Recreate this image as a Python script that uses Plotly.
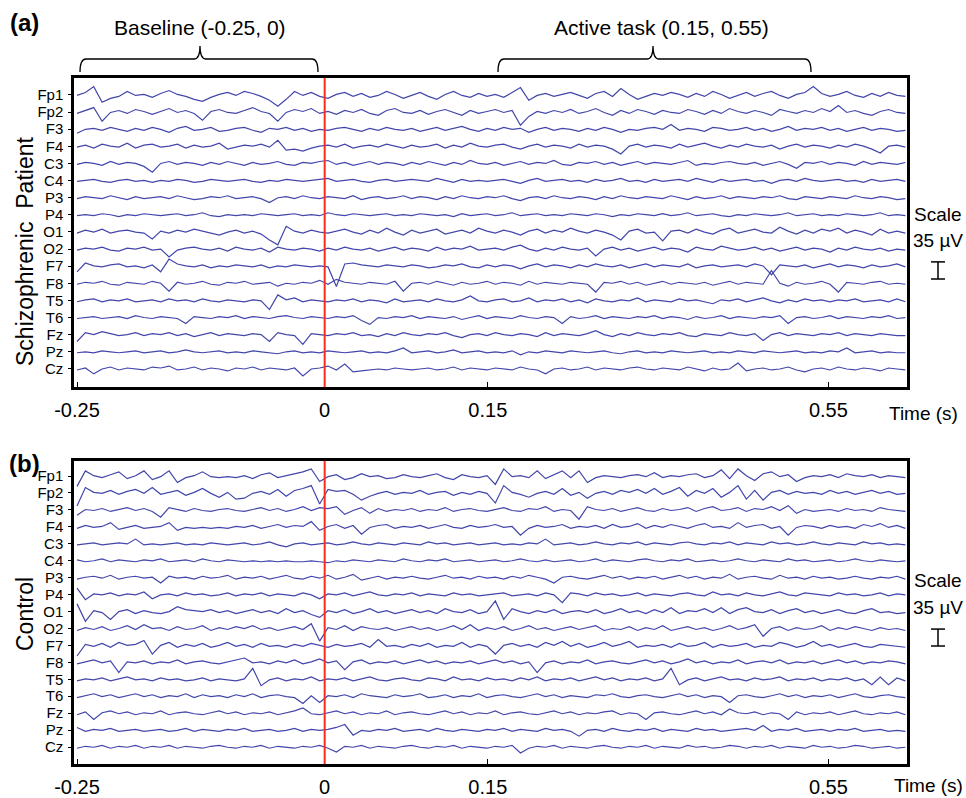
import numpy as np
import plotly.graph_objects as go

# ---------------- data ----------------
channels = ["Fp1", "Fp2", "F3", "F4", "C3", "C4", "P3", "P4", "O1", "O2",
            "F7", "F8", "T5", "T6", "Fz", "Pz", "Cz"]
tick_text = ["-0.25", "0", "0.15", "0.55"]
tick_sample = [0, 29.6, 49.1, 89.8]      # sample index of each time tick
onset_sample = 29.6                       # stimulus onset (t = 0)
UNIT_UV = 2.0                             # stored amplitudes are in 2-uV units
SPACING_UV = 35                           # channel spacing = scale bar (35 uV)

# Schizophrenic patient (100 samples per channel)
sz_Fp1 = [1,4,10,-6,-2,0,5,1,2,-1, 3,6,2,0,-3,-5,-1,2,4,1, 5,3,0,-4,-10,-3,5,1,4,0, -2,2,4,0,3,-1,1,5,2,-2,
          1,4,0,-3,2,5,1,-1,3,0, 2,-1,4,9,-4,1,3,0,2,4, 1,-2,3,5,0,8,2,-3,0,3, 1,4,2,-1,3,0,5,2,-2,1,
          4,0,3,5,1,-2,2,4,10,3, 0,2,5,1,-1,3,0,4,1,0]
sz_Fp2 = [0,3,6,-8,1,3,0,4,2,-1, 2,5,1,3,0,-7,2,4,1,0, 3,6,2,0,-8,1,4,2,5,0, 2,-1,3,1,4,0,-2,3,5,1,
          0,3,-1,2,4,1,-2,3,0,2, 4,1,3,-12,-3,2,0,3,1,4, 0,2,5,1,-2,3,0,4,2,-1, 3,1,0,4,2,-1,3,0,5,2,
          0,3,1,-2,4,2,0,3,1,5, 2,8,1,3,0,-2,2,4,1,0]
sz_F3 = [-3,1,2,0,3,1,-1,2,0,3, 1,-2,2,4,0,1,3,-1,0,2, 3,0,-2,2,1,3,0,2,-1,1, 0,2,3,1,-1,2,0,3,1,0,
         2,-1,1,3,0,2,4,1,-1,2, 0,3,1,2,-2,1,3,0,2,1, -1,2,0,3,1,-2,1,0,2,3, 1,6,0,2,1,-1,3,2,0,1,
         3,0,2,-1,1,4,0,2,1,3, 0,2,-1,1,3,0,2,1,-1,0]
sz_F4 = [0,2,-1,3,1,0,4,-1,2,3, 0,1,3,-1,2,0,1,4,-2,0, 2,1,3,0,7,-3,-2,-4,-1,1, 2,0,3,-1,1,2,0,3,1,-1,
         2,0,1,3,-1,2,0,4,1,0, 2,3,0,-2,1,3,0,2,1,-1, 3,0,2,1,-2,-7,1,3,0,2, 1,-1,3,0,2,4,1,-1,2,0,
         3,1,0,2,-2,1,3,0,2,1, -1,2,0,3,1,-2,-6,1,2,0]
sz_C3 = [0,2,1,-1,3,0,2,1,-2,-8, 1,3,0,2,1,-1,2,0,3,1, -1,2,0,1,3,0,-1,2,1,3, 4,0,2,-1,1,3,0,2,1,-1,
         2,0,3,1,-1,2,0,4,1,0, 2,-1,1,3,0,2,1,4,0,-1, 2,1,3,0,2,-1,1,3,0,2, 1,0,2,4,-1,1,0,2,3,1,
         0,2,-1,1,3,0,-4,2,1,3, 0,2,1,-1,3,0,2,1,0,2]
sz_C4 = [0,1,2,0,-1,1,2,0,1,-1, 1,0,2,1,-1,0,2,1,0,1, 2,0,-1,1,0,2,1,0,1,2, 3,0,1,2,0,-1,1,2,0,1,
         2,1,0,3,1,-1,2,0,1,0, 1,2,0,-2,1,3,0,1,2,0, 1,-1,2,0,1,3,0,1,-1,2, 0,1,2,0,3,1,-1,2,0,1,
         2,0,1,-2,1,2,0,3,1,0, 1,2,0,1,-1,2,0,1,2,0]
sz_P3 = [0,2,1,0,3,1,-1,2,0,1, 2,0,3,1,-1,0,2,1,3,0, 1,2,0,-4,1,2,0,3,1,0, 2,1,0,3,-1,1,2,0,1,3,
         0,2,1,-1,2,0,3,1,0,2, 1,3,0,-2,1,2,0,3,1,0, 2,1,-1,2,0,3,1,0,2,1, 0,3,1,-1,2,0,1,3,0,2,
         1,0,2,1,3,0,-1,2,1,0, 2,1,0,3,1,0,2,1,-1,0]
sz_P4 = [0,1,0,2,1,-1,1,0,2,1, 0,1,2,0,1,3,0,-1,1,0, 1,0,2,1,0,1,2,0,1,0, 3,1,0,2,1,0,1,2,0,1,
         0,2,1,0,1,-1,2,0,1,2, 0,1,3,0,1,2,0,1,0,2, 1,0,2,1,-1,1,0,2,1,0, 2,0,1,3,0,1,2,0,-1,1,
         0,2,1,0,1,3,0,1,2,0, 1,0,2,1,0,1,3,0,1,0]
sz_O1 = [0,3,1,4,0,2,3,1,0,-6, 2,0,3,1,4,2,0,-2,1,3, 0,2,-1,-7,-12,7,2,0,3,1, 0,2,4,1,-1,3,0,5,1,-2,
         3,0,2,4,-1,1,3,0,5,2, 0,3,1,-2,2,4,0,3,1,5, 2,0,3,1,-2,-7,2,4,0,1, -8,2,3,0,4,1,-1,3,5,0,
         2,4,1,0,6,2,-1,3,0,4, 2,5,0,3,1,-2,4,0,2,0]
sz_O2 = [0,2,1,3,0,-1,2,1,3,0, 1,-7,0,2,3,1,0,2,-1,3, 1,0,2,-2,3,1,0,2,1,-1, 2,0,3,1,0,2,-1,1,3,0,
         2,1,-1,3,0,2,1,4,0,1, 2,0,3,5,1,-1,2,0,3,1, 0,2,-6,1,3,0,2,-1,1,3, 0,2,1,-2,3,1,0,4,2,0,
         1,3,0,2,-1,1,3,0,2,1, -2,2,0,3,1,0,2,-1,1,0]
sz_F7 = [-5,4,1,0,2,3,0,1,-1,2, -5,8,3,1,0,2,-1,1,0,2, 1,0,2,-1,1,0,2,1,0,1, 0,-20,3,4,2,1,0,2,1,0,
         2,1,-1,0,2,1,3,0,-1,2, 0,2,1,-2,1,3,0,2,1,-1, 2,0,3,1,0,2,-1,1,3,0, 2,1,0,3,-1,1,2,0,1,2,
         0,3,1,-8,2,1,0,2,-1,1, 3,0,2,1,-1,2,0,1,3,0]
sz_F8 = [0,2,1,3,0,-1,2,1,0,3, 1,-7,2,0,1,3,0,-1,2,1, 3,0,1,2,-2,1,0,2,1,4, 0,5,2,1,0,2,1,0,3,-7,
         1,2,0,3,1,-1,2,0,1,3, 0,2,1,-1,3,0,2,1,0,2, 1,0,-8,2,1,3,0,2,-1,1, 3,0,2,1,0,2,-1,1,3,0,
         2,1,0,14,1,-2,2,0,1,3, 0,-8,2,1,0,2,3,0,1,0]
sz_T5 = [0,2,3,0,2,1,3,0,1,2, 0,3,1,2,0,3,1,0,2,1, 0,2,1,-8,7,2,4,0,2,1, 0,2,1,3,0,2,1,-1,3,0,
         1,2,0,3,1,0,2,6,1,0, 2,3,0,1,4,0,2,1,3,0, 2,-1,3,1,0,2,1,4,0,2, 1,0,3,1,2,0,-2,2,1,3,
         0,2,4,1,-1,2,0,3,1,2, 0,2,1,3,0,1,2,0,3,0]
sz_T6 = [0,1,2,0,1,2,0,3,1,0, 2,1,0,-5,2,1,0,2,1,3, 0,2,1,0,2,3,1,0,2,1, 0,2,1,3,-2,-6,1,0,2,1,
         3,0,2,1,0,2,-1,1,3,0, 2,1,0,3,1,0,2,1,-5,2, 0,1,3,0,2,1,0,2,1,3, 0,2,1,-1,2,0,1,3,0,2,
         1,0,2,1,3,-5,1,2,0,1, 3,0,2,1,0,2,1,3,0,1]
sz_Fz = [-6,3,1,4,2,0,1,3,0,2, 1,3,0,2,-1,1,3,0,2,1, 0,2,1,-6,3,1,0,-9,2,1, 0,2,1,3,0,1,-1,2,0,3,
         1,0,2,1,3,0,-2,1,2,0, 3,1,0,2,1,-1,3,0,2,1, 0,2,5,1,-1,2,0,3,1,0, 2,1,3,0,-1,2,1,0,3,1,
         0,2,-5,1,3,0,2,1,0,2, 1,3,0,2,1,0,2,1,0,0]
sz_Pz = [0,1,0,2,1,0,1,2,0,1, 2,0,1,3,1,0,1,2,0,1, 0,2,1,0,-1,1,2,0,1,0, 2,1,0,1,2,0,1,0,2,5,
         0,1,2,0,1,3,0,1,2,0, 1,0,2,-2,1,0,2,1,0,2, 1,0,1,2,0,-1,1,2,0,1, 0,2,1,0,1,2,0,1,0,2,
         1,0,2,1,0,1,2,0,1,0, 2,1,5,0,1,2,0,1,0,0]
sz_Cz = [0,2,-4,1,3,0,2,1,0,3, 2,4,0,1,3,0,2,1,-1,2, 1,3,0,2,1,0,2,-6,1,2, 4,0,6,-2,-1,0,1,0,2,1,
         0,1,2,0,1,3,0,2,1,0, 2,1,0,3,1,0,-4,1,2,0, 1,3,0,2,1,0,2,3,1,0, 2,1,0,3,1,-1,2,0,1,7,
         -1,1,2,0,1,3,0,-2,1,2, 0,3,1,0,2,1,-1,2,1,0]

# Control (100 samples per channel)
ct_Fp1 = [-9,7,2,0,3,6,-1,2,7,-2, 1,7,-5,0,2,6,1,0,1,0, 2,-1,3,5,0,2,4,6,9,-4, 1,3,-2,0,4,1,2,-1,0,3,
          1,0,2,4,0,-2,3,1,0,2, -7,9,1,2,0,7,-1,3,7,0, 7,-5,0,2,1,0,2,3,1,5, 0,2,1,3,4,0,2,8,-1,9,
          2,-3,4,6,1,3,-4,0,2,1, 3,0,4,2,1,3,0,2,1,0]
ct_Fp2 = [-12,7,2,1,4,0,3,5,1,7, 0,2,4,-1,2,6,1,-3,2,-5, -4,1,3,0,5,-2,4,6,9,-10, 5,3,4,0,-6,-2,1,3,0,2,
          1,4,0,2,3,-1,2,0,3,1, -9,9,2,0,-3,1,3,0,6,-1, 2,-4,1,3,0,4,2,5,1,6, 0,3,7,-2,4,1,6,-3,2,9,
          -5,4,-6,2,4,0,3,1,2,0, 4,1,3,0,2,4,1,3,0,1]
ct_F3 = [-4,2,1,3,0,2,4,1,3,0, -6,4,2,0,3,1,0,2,3,1, 0,2,4,1,3,0,2,5,1,4, 3,5,-3,1,4,-2,3,0,2,1,
         3,0,2,1,4,0,2,3,1,0, 2,4,1,0,3,2,5,0,2,1, -8,5,2,1,3,0,2,4,1,0, 3,1,2,4,0,3,5,1,2,4,
         0,3,2,5,1,6,-2,2,0,1, 2,0,3,1,2,0,4,2,1,0]
ct_F4 = [0,3,1,2,6,-1,1,3,0,1, 2,6,-2,1,0,1,0,1,0,2, 1,3,0,2,4,1,3,2,7,-2, 2,4,0,3,-6,1,3,4,0,2,
         1,3,0,2,4,1,0,3,1,2, 4,1,2,-7,0,3,1,2,4,0, 2,1,3,0,4,1,2,5,0,3, 1,4,2,0,3,5,1,2,0,6,
         1,3,4,0,2,-7,1,3,2,0, 3,1,2,0,4,2,5,1,3,0]
ct_C3 = [0,1,2,0,1,2,1,6,0,1, 0,1,2,0,1,0,2,1,0,1, 2,0,1,3,0,-2,1,2,0,1, 2,0,1,3,1,0,2,1,0,2,
         1,0,3,1,2,0,1,2,0,1, 2,0,1,0,2,1,6,0,1,2, 0,1,3,1,0,2,1,3,0,2, 1,0,2,3,1,0,2,1,3,0,
         2,1,0,3,1,2,0,1,3,1, 0,2,1,0,3,1,2,0,1,0]
ct_C4 = [2,0,1,3,0,2,1,0,2,1, 3,0,1,2,0,3,1,0,2,1, 0,1,0,1,0,1,0,0,1,0, -1,1,0,2,1,0,2,1,0,3,
         1,0,2,1,3,0,1,2,0,1, 2,0,1,3,1,0,2,0,1,2, 0,1,3,0,2,1,0,2,3,1, 0,2,1,3,0,1,2,0,1,3,
         1,0,2,1,0,3,1,2,0,1, 2,0,1,3,1,0,2,1,0,1]
ct_P3 = [0,2,3,1,4,0,2,3,1,2, -4,3,1,2,0,3,1,2,4,0, 2,1,3,0,2,4,1,0,3,1, 4,0,2,5,-1,1,3,0,2,1,
         3,1,0,2,4,1,2,0,3,1, 2,0,3,1,4,2,0,-4,2,3, 1,0,2,4,1,3,0,2,1,3, 0,2,4,1,3,0,2,1,5,0,
         2,3,1,0,4,1,2,0,3,1, 2,0,1,3,1,0,2,1,3,0]
ct_P4 = [8,-4,2,1,3,0,2,1,4,-3, 1,2,0,3,1,2,0,1,3,0, 2,1,3,0,2,1,0,3,1,-3, 2,1,3,0,2,4,1,0,2,1,
         3,0,2,1,0,3,1,2,0,1, 2,3,0,1,2,0,3,1,-7,3, 2,0,3,1,2,0,1,3,0,2, 1,0,2,3,1,0,4,1,2,0,
         3,1,0,2,4,1,0,3,2,1, 0,3,1,2,0,1,3,0,2,1]
ct_O1 = [10,-8,3,1,-6,2,4,0,3,1, 0,2,7,4,3,2,4,1,3,0, 2,4,1,3,0,5,1,3,-1,-4, 3,1,4,0,2,5,1,3,0,2,
         4,1,3,0,5,2,1,4,0,2, 13,-6,5,2,0,3,1,4,0,2, 3,1,4,0,2,5,1,3,0,4, 1,6,0,3,2,5,1,6,0,4,
         6,2,1,4,0,3,5,1,3,0, 2,4,1,0,3,5,1,2,0,1]
ct_O2 = [0,3,1,4,0,2,5,1,6,2, 3,0,4,1,2,5,0,3,1,4, 2,5,1,3,0,2,4,1,7,-11, 3,1,5,0,4,2,1,3,0,2,
         4,1,3,0,2,5,1,6,0,3, 1,4,0,2,5,1,3,0,2,4, 1,3,5,0,2,1,4,0,3,1, 5,0,2,4,1,3,0,2,5,1,
         3,6,-6,2,4,0,3,1,2,5, 0,3,1,4,2,0,3,1,2,0]
ct_F7 = [-9,3,1,4,0,5,2,3,7,-7, 2,5,0,3,1,4,0,2,5,1, 3,0,4,1,2,0,3,1,4,2, 0,3,1,2,4,0,8,1,2,0,
         3,1,4,0,2,1,5,0,3,1, -7,2,4,1,3,0,5,2,6,1, 4,0,2,5,1,3,6,0,2,1, 3,0,4,1,2,5,0,3,1,2,
         4,0,2,1,5,3,0,2,6,1, 3,0,2,4,1,0,3,2,1,0]
ct_F8 = [0,2,4,1,3,-9,2,1,3,0, 2,1,4,0,2,3,1,0,2,4, 6,1,2,0,3,1,4,0,2,5, 1,3,-6,2,4,0,2,1,3,0,
         2,4,1,3,0,2,1,3,0,2, 4,1,3,0,2,-9,1,3,0,2, 1,4,0,2,3,1,0,2,4,1, 3,0,2,5,1,3,0,2,1,4,
         0,2,3,1,4,0,2,1,3,0, 2,4,1,3,0,2,1,3,2,0]
ct_T5 = [0,2,1,3,0,2,4,1,2,0, 3,1,2,0,1,3,0,2,1,0, 2,13,-5,1,3,0,2,1,4,0, 2,1,3,0,2,4,1,0,2,3,
         1,0,3,2,0,4,1,2,0,3, 1,2,0,3,1,4,0,2,1,3, 0,2,4,1,3,0,2,1,3,0, 2,13,-4,1,3,0,2,4,1,2,
         0,3,1,2,4,0,2,1,3,0, 2,1,3,0,2,-4,4,-4,3,0]
ct_T6 = [0,2,4,1,3,0,2,4,1,3, 0,2,1,4,0,3,1,2,0,3, 1,4,0,2,3,1,0,-6,2,-5, 2,1,3,0,4,2,1,0,3,1,
         2,4,0,1,3,0,2,1,4,0, 2,3,1,0,2,4,1,3,0,2, 1,0,3,2,4,1,0,2,3,1, 0,2,4,1,3,0,2,1,-5,2,
         3,1,0,2,4,1,3,0,2,1, 3,0,2,4,1,0,2,3,1,0]
ct_Fz = [0,3,-5,2,4,1,3,0,2,1, 4,0,2,3,1,0,2,4,1,3, 0,2,1,3,0,2,4,7,1,0, 2,4,1,3,0,2,1,4,0,2,
         3,1,0,2,4,1,3,0,2,1, 4,0,2,3,1,0,2,4,1,3, 0,2,1,3,4,0,2,1,-5,2, 3,1,0,2,4,1,3,0,6,2,
         1,3,0,2,1,-5,3,0,2,1, 3,0,2,4,1,0,2,1,3,0]
ct_Pz = [4,0,2,1,3,0,1,2,0,1, 2,0,1,3,0,2,1,0,2,1, 3,0,1,2,0,1,3,0,2,1, 2,4,7,-4,1,0,2,1,3,0,
         1,2,0,3,1,0,2,1,0,2, 1,3,0,2,1,0,3,1,2,0, -5,1,2,0,3,1,0,2,1,3, 0,2,1,0,3,1,2,0,1,2,
         3,1,6,0,2,1,3,0,1,2, 0,2,1,3,0,1,2,0,1,0]
ct_Cz = [0,2,1,3,0,2,1,3,0,2, 1,3,0,2,1,0,2,3,1,0, 2,1,3,0,2,1,0,2,1,3, 0,-4,2,1,3,0,2,1,0,2,
         3,1,0,2,1,3,0,2,1,0, 2,1,3,-5,0,2,1,3,0,2, 1,0,2,3,1,0,2,1,3,0, 2,1,0,3,1,2,0,1,3,2,
         0,2,1,3,0,2,1,0,3,1, 2,0,1,3,2,0,1,2,0,1]

patient = [sz_Fp1, sz_Fp2, sz_F3, sz_F4, sz_C3, sz_C4, sz_P3, sz_P4, sz_O1, sz_O2,
           sz_F7, sz_F8, sz_T5, sz_T6, sz_Fz, sz_Pz, sz_Cz]
control = [ct_Fp1, ct_Fp2, ct_F3, ct_F4, ct_C3, ct_C4, ct_P3, ct_P4, ct_O1, ct_O2,
           ct_F7, ct_F8, ct_T5, ct_T6, ct_Fz, ct_Pz, ct_Cz]

# ---------------- figure ----------------
W, H = 966, 798
FONT = "Liberation Sans, Arial, Helvetica, sans-serif"
TRACE = "rgb(66,70,170)"


def px(x):
    return x / W


def py(y):
    return 1 - y / H


fig = go.Figure()
for panel, (data, yname) in enumerate([(patient, "y"), (control, "y2")]):
    xname = "x" if panel == 0 else "x2"
    for k, vals in enumerate(data):
        v = np.asarray(vals, dtype=float)
        v = (v - v.mean()) * UNIT_UV
        fig.add_trace(go.Scatter(
            x=np.arange(len(v)), y=-k * SPACING_UV + v, mode="lines",
            line=dict(color=TRACE, width=1.2), xaxis=xname, yaxis=yname,
            showlegend=False, hoverinfo="skip"))

xdom = [px(74), px(907)]
xr = [-0.36, 99.2]
common_x = dict(domain=xdom, range=xr, showgrid=False, zeroline=False, showline=True,
                linecolor="black", linewidth=2.5, mirror=True, ticks="inside", ticklen=5,
                tickwidth=1.2, tickcolor="black", tickvals=tick_sample, ticktext=tick_text,
                tickfont=dict(family=FONT, size=20, color="black"), ticklabelstandoff=3,
                automargin=False)
ytickvals = [-k * SPACING_UV for k in range(len(channels))]
common_y = dict(showgrid=False, zeroline=False, showline=True, linecolor="black",
                linewidth=2.5, mirror=True, ticks="outside", ticklen=3, tickwidth=1,
                tickcolor="black", tickvals=ytickvals, ticktext=channels,
                tickfont=dict(family=FONT, size=15, color="black"), ticklabelstandoff=2,
                automargin=False)

fig.update_layout(
    width=W, height=H, margin=dict(l=0, r=0, t=0, b=0, pad=0, autoexpand=False),
    paper_bgcolor="white", plot_bgcolor="white",
    xaxis=dict(anchor="y", **common_x),
    xaxis2=dict(anchor="y2", **common_x),
    yaxis=dict(anchor="x", domain=[py(387), py(78)], range=[-596.8, 34.7], **common_y),
    yaxis2=dict(anchor="x2", domain=[py(764), py(461)], range=[-595.1, 31.0], **common_y),
    font=dict(family=FONT, color="black"),
)

shapes = []
# stimulus onset lines
for yref in ["y domain", "y2 domain"]:
    xref = "x" if yref.startswith("y ") else "x2"
    shapes.append(dict(type="line", xref=xref, yref=yref, x0=onset_sample, x1=onset_sample,
                       y0=0, y1=1, line=dict(color="#ff2a1a", width=2)))


def brace(x0, x1, xm, y_end, y_line, y_tip, r=6):
    pts = [
        f"M {px(x0)},{py(y_end)}",
        f"Q {px(x0)},{py(y_line)} {px(x0 + r)},{py(y_line)}",
        f"L {px(xm - r)},{py(y_line)}",
        f"Q {px(xm)},{py(y_line)} {px(xm)},{py(y_tip)}",
        f"Q {px(xm)},{py(y_line)} {px(xm + r)},{py(y_line)}",
        f"L {px(x1 - r)},{py(y_line)}",
        f"Q {px(x1)},{py(y_line)} {px(x1)},{py(y_end)}",
    ]
    return dict(type="path", xref="paper", yref="paper", path=" ".join(pts),
                line=dict(color="black", width=1.3))


shapes.append(brace(80, 318, 200, 72, 59, 46))
shapes.append(brace(498, 811, 653, 72, 59, 46))

# scale bars (35 uV, in data units)
for yref, ybot in [("y", -376.1), ("y2", -351.3)]:
    shapes.append(dict(type="line", xref="paper", yref=yref, x0=px(938), x1=px(938),
                       y0=ybot, y1=ybot + SPACING_UV, line=dict(color="black", width=1.5)))
    for yy in (ybot, ybot + SPACING_UV):
        shapes.append(dict(type="line", xref="paper", yref=yref, x0=px(931), x1=px(945),
                           y0=yy, y1=yy, line=dict(color="black", width=1.5)))
fig.update_layout(shapes=shapes)


def ann(text, x, y, size, bold=False, angle=0):
    return dict(text=f"<b>{text}</b>" if bold else text, x=px(x), y=py(y), xref="paper",
                yref="paper", showarrow=False, xanchor="center", yanchor="middle",
                textangle=angle, font=dict(family=FONT, size=size, color="black"))


annotations = [
    ann("(a)", 24, 22, 24, bold=True),
    ann("(b)", 24, 463, 24, bold=True),
    ann("Baseline (-0.25, 0)", 200, 27, 21),
    ann("Active task (0.15, 0.55)", 661, 27, 21),
    ann("Schizophrenic  Patient", 25, 252, 23, angle=-90),
    ann("Control", 25, 614, 23, angle=-90),
    ann("Scale", 938, 214, 19),
    ann("35 µV", 938, 240, 19),
    ann("Scale", 938, 580, 19),
    ann("35 µV", 938, 607, 19),
    ann("Time (s)", 923, 413, 19),
    ann("Time (s)", 928, 785, 19),
]
fig.update_layout(annotations=annotations)

fig.write_html("out.html", config={"displayModeBar": False},
               post_script="document.body.style.margin='0px';")
